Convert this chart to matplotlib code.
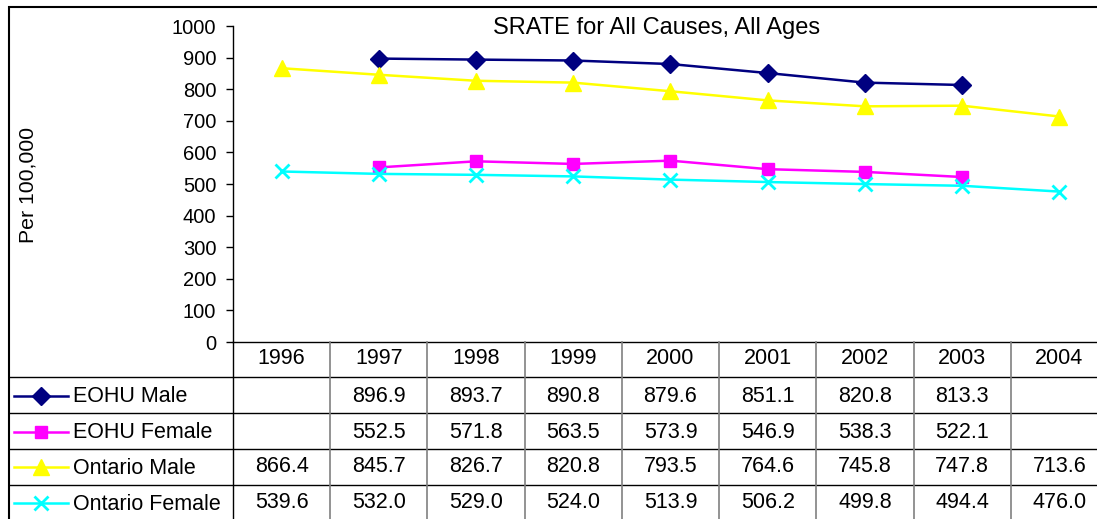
import numpy as np
import matplotlib.pyplot as plt
from matplotlib.patches import Rectangle

plt.rcParams['font.family'] = ['Liberation Sans', 'DejaVu Sans']

years = ['1996', '1997', '1998', '1999', '2000', '2001', '2002', '2003', '2004']
nan = np.nan
eohu_male = [nan, 896.9, 893.7, 890.8, 879.6, 851.1, 820.8, 813.3, nan]
eohu_female = [nan, 552.5, 571.8, 563.5, 573.9, 546.9, 538.3, 522.1, nan]
ont_male = [866.4, 845.7, 826.7, 820.8, 793.5, 764.6, 745.8, 747.8, 713.6]
ont_female = [539.6, 532.0, 529.0, 524.0, 513.9, 506.2, 499.8, 494.4, 476.0]

series = [
    ('EOHU Male', eohu_male, '#000080', 'D', 9),
    ('EOHU Female', eohu_female, '#FF00FF', 's', 9),
    ('Ontario Male', ont_male, '#FFFF00', '^', 11),
    ('Ontario Female', ont_female, '#00FFFF', 'x', 10),
]

W, H = 1097, 519
fig = plt.figure(figsize=(W / 100, H / 100), dpi=100)

# plot area in pixel coords (extends past the right edge, like the original)
x0, x1 = 233, 1108
ytop, ybot = 26, 342
ax = fig.add_axes([x0 / W, 1 - ybot / H, (x1 - x0) / W, (ybot - ytop) / H])
x = np.arange(len(years))
for name, vals, col, mk, ms in series:
    ax.plot(x, vals, color=col, lw=1.8, marker=mk, ms=ms, mew=2 if mk == 'x' else 1,
            mec=col, mfc=col, clip_on=False)
ax.set_xlim(-0.5, len(years) - 0.5)
ax.set_ylim(0, 1000)
ax.set_yticks(range(0, 1001, 100))
ax.tick_params(axis='y', direction='out', length=5, width=1, labelsize=14.5, pad=7)
ax.set_xticks([])
for s in ['top', 'right']:
    ax.spines[s].set_visible(False)
ax.spines['left'].set_linewidth(1)
ax.spines['bottom'].set_linewidth(1)
ax.patch.set_alpha(0)
fig.text(28 / W, 1 - 185 / H, 'Per 100,000', rotation=90, fontsize=15.3,
         ha='center', va='center')
fig.text(657 / W, 1 - 28 / H, 'SRATE for All Causes, All Ages', fontsize=17,
         ha='center', va='center')

# data table below the plot
left_px = 9
colw = (x1 - x0) / len(years)
tab_bot = 521
tax = fig.add_axes([left_px / W, 1 - tab_bot / H, (x1 - left_px) / W, (tab_bot - ybot) / H])
tax.set_xlim(-0.5 - (x0 - left_px) / colw, len(years) - 0.5)
row_edges = [0, 35, 71, 107, 143, 179]
tax.set_ylim(179, 0)
tax.axis('off')
lx = tax.get_xlim()[0]
for yy in row_edges[1:5]:
    tax.plot([lx, len(years) - 0.5], [yy, yy], color='black', lw=1, clip_on=False)
tax.plot([-0.5, -0.5], [0, 179], color='black', lw=1, clip_on=False)
for i in range(1, len(years)):
    tax.plot([i - 0.5, i - 0.5], [0, 179], color='#808080', lw=1.2, clip_on=False)
fs = 15.5
for i, yr in enumerate(years):
    tax.text(i, 17, yr, ha='center', va='center', fontsize=fs)
centers = [54, 90, 125, 161]
key_x0 = lx + 5 / colw
key_x1 = lx + 59 / colw
key_xm = lx + 32 / colw
for (name, vals, col, mk, ms), yc in zip(series, centers):
    tax.plot([key_x0, key_x1], [yc, yc], color=col, lw=1.8)
    tax.plot([key_xm], [yc], marker=mk, ms=ms, color=col, mew=2 if mk == 'x' else 1)
    tax.text(lx + 64 / colw, yc + 1, name, ha='left', va='center', fontsize=fs)
    for i, v in enumerate(vals):
        if not np.isnan(v):
            tax.text(i, yc, f'{v:.1f}', ha='center', va='center', fontsize=fs)

# outer chart border
fig.patches.append(Rectangle((left_px / W, -0.1), 1.2, 1 - 7 / H + 0.1,
                             transform=fig.transFigure, fill=False,
                             edgecolor='black', lw=1.5))

fig.savefig('out.png', dpi=100)
